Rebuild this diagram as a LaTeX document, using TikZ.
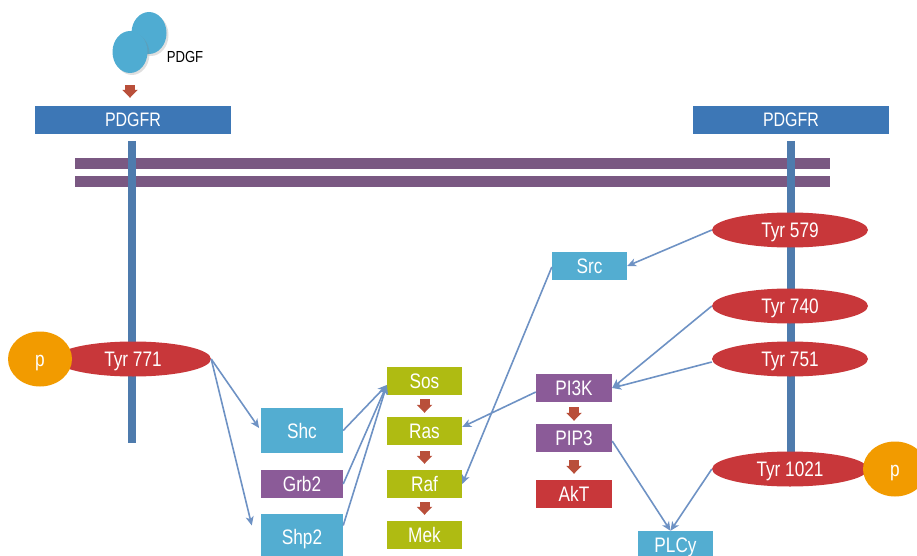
\documentclass[tikz,border=0pt]{standalone}
\usepackage{fontspec}
\setmainfont{Liberation Sans}[FakeStretch=0.82]
\usetikzlibrary{shapes.geometric,arrows.meta,shadows}
\definecolor{rcpblue}{HTML}{3D77B6}
\definecolor{stemblue}{HTML}{4E7BAD}
\definecolor{membrane}{HTML}{7A5882}
\definecolor{tyrred}{HTML}{C8373A}
\definecolor{porange}{HTML}{F29B00}
\definecolor{lightblue}{HTML}{53ADD1}
\definecolor{violet}{HTML}{8B5B98}
\definecolor{olive}{HTML}{AFBB12}
\definecolor{steparrow}{HTML}{B94F3A}
\definecolor{linkblue}{HTML}{6E92C4}
\definecolor{ligand}{HTML}{4FACD2}
\begin{document}
\begin{tikzpicture}[x=1pt,y=-1pt,
every node/.style={inner sep=0pt,text=white,text height=15pt,text depth=0pt,font=\fontsize{21}{25}\selectfont},
box/.style={rectangle,minimum width=76pt,minimum height=28pt},
tallbox/.style={box,minimum width=82pt,minimum height=45pt},
tyr/.style={ellipse,fill=tyrred,minimum width=156pt,minimum height=35pt},
phos/.style={ellipse,fill=porange,minimum width=64pt,minimum height=55pt},
receptor/.style={rectangle,fill=rcpblue,minimum width=196pt,minimum height=28pt,text height=14pt,font=\fontsize{19.5}{23}\selectfont},
pdgf/.style={ellipse,fill=ligand,minimum width=35pt,minimum height=42pt,drop shadow={opacity=0.25,shadow xshift=2pt,shadow yshift=-2pt}},
link/.style={draw=linkblue,line width=1.6pt,-{Stealth[length=9pt,width=8pt,inset=2.5pt]}},
redtip/.style={draw=steparrow,line width=10pt,-{Triangle[length=8pt,width=15pt]}}
]
\useasboundingbox (0,0) rectangle (917,556);

\fill[membrane] (75,158) rectangle (830,169);
\fill[membrane] (75,176) rectangle (830,187);
\draw[stemblue,line width=8pt] (132,141) -- (132,443);
\draw[stemblue,line width=8pt] (791,141) -- (791,455);

\node[pdgf] (pdgfb) at (149,33) {};
\node[pdgf] (pdgff) at (130,52) {};
\node[text=black,font=\fontsize{16}{20}\selectfont,text height=11.5pt] (pdgflbl) at (185,57) {PDGF};
\node[receptor] (rcpL) at (133,120) {PDGFR};
\node[receptor] (rcpR) at (791,120) {PDGFR};

\node[tyr] (t771) at (133,359) {Tyr 771};
\node[phos] (pL) at (40,359) {p};
\node[tyr] (t579) at (790,230) {Tyr 579};
\node[tyr] (t740) at (790,306) {Tyr 740};
\node[tyr] (t751) at (790,359) {Tyr 751};
\node[tyr] (t1021) at (790,469) {Tyr 1021};
\node[phos] (pR) at (895,469) {p};

\node[tallbox,fill=lightblue] (Shc) at (302,430.5) {Shc};
\node[box,minimum width=82pt,fill=violet] (Grb2) at (302,484) {Grb2};
\node[tallbox,fill=lightblue] (Shp2) at (302,536.5) {Shp2};
\node[box,minimum width=75pt,fill=olive] (Sos) at (424.5,381) {Sos};
\node[box,minimum width=75pt,fill=olive] (Ras) at (424.5,431) {Ras};
\node[box,minimum width=75pt,fill=olive] (Raf) at (424.5,484) {Raf};
\node[box,minimum width=75pt,fill=olive] (Mek) at (424.5,535) {Mek};
\node[box,minimum width=75pt,fill=lightblue] (Src) at (589.5,266) {Src};
\node[box,fill=violet] (PI3K) at (574,388) {PI3K};
\node[box,fill=violet] (PIP3) at (574,438) {PIP3};
\node[box,fill=tyrred] (AkT) at (574,494) {AkT};
\node[box,minimum width=75pt,fill=lightblue] (PLCy) at (675.5,545) {PLCy};

\draw[redtip,shorten <=12pt,shorten >=8pt] (pdgff.south) -- (pdgff.south |- rcpL.north);
\draw[redtip,shorten <=4pt,shorten >=4pt] (Sos) -- (Ras);
\draw[redtip,shorten <=6pt,shorten >=6pt] (Ras) -- (Raf);
\draw[redtip,shorten <=4pt,shorten >=6pt] (Raf) -- (Mek);
\draw[redtip,shorten <=5pt,shorten >=3pt] (PI3K) -- (PIP3);
\draw[redtip,shorten <=8pt,shorten >=6pt] (PIP3) -- (AkT);

\coordinate (shp2in) at ([xshift=-9pt,yshift=11pt]Shp2.west);
\coordinate (sosin) at ([yshift=-4pt]Sos.west);
\coordinate (plcyin) at ([xshift=-5pt]PLCy.north);
\draw[link,shorten >=3pt] (t771.east) -- (Shc.west);
\draw[link] (t771.east) -- (shp2in);
\draw[link] (Shc.east) -- (sosin);
\draw[link] (Grb2.east) -- (sosin);
\draw[link] ([yshift=11pt]Shp2.east) -- (sosin);
\draw[link] ([yshift=-4pt]PI3K.west) -- ([yshift=4pt]Ras.east);
\draw[link] ([yshift=-1pt]Src.west) -- (Raf.east);
\draw[link] (t579.west) -- (Src.east);
\draw[link] (t740.west) -- (PI3K.east);
\draw[link] ([yshift=-3pt]t751.west) -- (PI3K.east);
\draw[link] ([yshift=-3pt]PIP3.east) -- (plcyin);
\draw[link] (t1021.west) -- (plcyin);
\end{tikzpicture}
\end{document}
